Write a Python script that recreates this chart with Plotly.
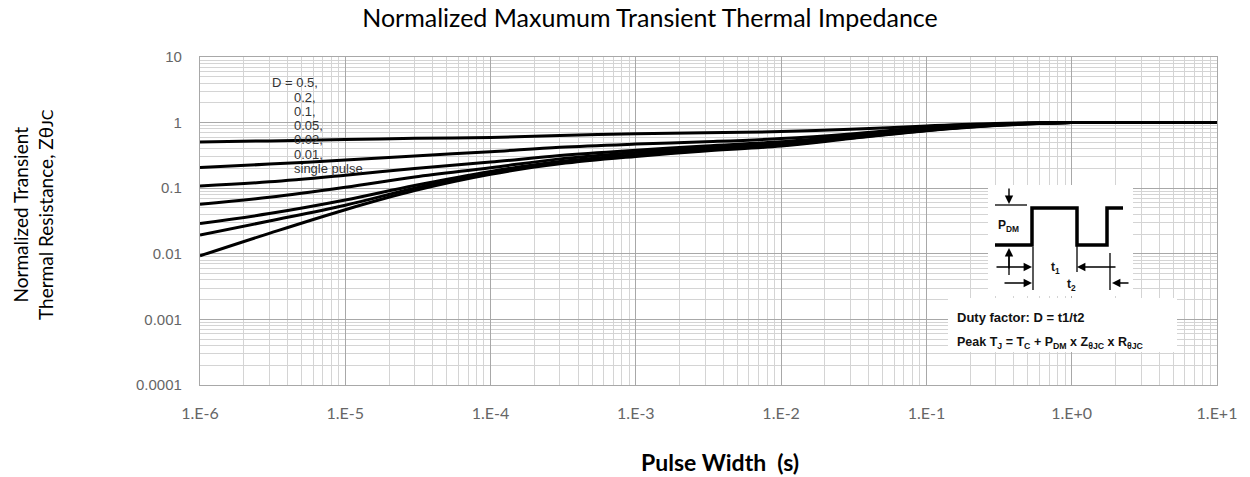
import plotly.graph_objects as go

# ---- data ----
pulse_width = [1e-6, 3e-6, 1e-5, 3e-5, 1e-4, 3e-4, 1e-3, 3e-3, 1e-2, 3e-2, 1e-1, 3e-1, 1.0, 3.0, 10.0]
d_050 = [0.508, 0.526, 0.553, 0.575, 0.595, 0.635, 0.675, 0.70, 0.73, 0.79, 0.89, 0.97, 1.0, 1.0, 1.0]
d_020 = [0.206, 0.233, 0.268, 0.31, 0.36, 0.42, 0.47, 0.51, 0.57, 0.67, 0.84, 0.95, 1.0, 1.0, 1.0]
d_010 = [0.108, 0.125, 0.158, 0.20, 0.25, 0.315, 0.38, 0.44, 0.51, 0.63, 0.81, 0.94, 1.0, 1.0, 1.0]
d_005 = [0.057, 0.0725, 0.103, 0.148, 0.205, 0.28, 0.35, 0.41, 0.48, 0.61, 0.79, 0.93, 1.0, 1.0, 1.0]
d_002 = [0.029, 0.041, 0.066, 0.11, 0.18, 0.255, 0.325, 0.39, 0.46, 0.59, 0.77, 0.92, 1.0, 1.0, 1.0]
d_001 = [0.0193, 0.0316, 0.055, 0.10, 0.172, 0.245, 0.315, 0.38, 0.45, 0.58, 0.76, 0.91, 1.0, 1.0, 1.0]
single = [0.0093, 0.0205, 0.047, 0.092, 0.163, 0.235, 0.305, 0.37, 0.44, 0.57, 0.75, 0.90, 1.0, 1.0, 1.0]
series = [d_050, d_020, d_010, d_005, d_002, d_001, single]
series_names = ["D=0.5", "D=0.2", "D=0.1", "D=0.05", "D=0.02", "D=0.01", "single pulse"]

x_tickvals = [1e-6, 1e-5, 1e-4, 1e-3, 1e-2, 1e-1, 1e0, 1e1]
x_ticktext = ["1.E-6", "1.E-5", "1.E-4", "1.E-3", "1.E-2", "1.E-1", "1.E+0", "1.E+1"]
y_tickvals = [1e-4, 1e-3, 1e-2, 1e-1, 1, 10]
y_ticktext = ["0.0001", "0.001", "0.01", "0.1", "1", "10"]
legend_lines = ["D = 0.5,", "0.2,", "0.1,", "0.05,", "0.02,", "0.01,", "single pulse"]

x_minor = [m * 10.0 ** e for e in range(-6, 1) for m in range(2, 10)]
y_minor = [m * 10.0 ** e for e in range(-4, 1) for m in range(2, 10)]

# ---- layout geometry (pixels) ----
W, H = 1250, 477
L, R, T, B = 200, 33, 57, 92
PW, PH = W - L - R, H - T - B


def px(x):
    return (x - L) / PW


def py(y):
    return (H - B - y) / PH


fig = go.Figure()
for vals, name in zip(series, series_names):
    fig.add_trace(go.Scatter(
        x=pulse_width, y=vals, mode="lines", name=name,
        line=dict(color="black", width=3, shape="spline", smoothing=1.0),
        showlegend=False, hoverinfo="skip"))

shapes = []
annotations = []

# inset white boxes
shapes.append(dict(type="rect", xref="paper", yref="paper",
                   x0=px(988), x1=px(1133), y0=py(296), y1=py(185),
                   fillcolor="white", line=dict(width=0), layer="above"))
shapes.append(dict(type="rect", xref="paper", yref="paper",
                   x0=px(948), x1=px(1177), y0=py(352), y1=py(298),
                   fillcolor="white", line=dict(width=0), layer="above"))

# pulse waveform
pts = [(995, 245), (1032, 245), (1032, 208), (1077, 208), (1077, 245),
       (1107, 245), (1107, 208), (1123, 208)]
path = "M " + " L ".join(f"{px(a):.5f},{py(b):.5f}" for a, b in pts)
shapes.append(dict(type="path", xref="paper", yref="paper", path=path,
                   line=dict(color="black", width=3.5), layer="above"))


def seg(x0, y0, x1, y1, w=1.3):
    shapes.append(dict(type="line", xref="paper", yref="paper",
                       x0=px(x0), y0=py(y0), x1=px(x1), y1=py(y1),
                       line=dict(color="black", width=w), layer="above"))


seg(995, 205, 1027, 205)
seg(1033, 247, 1033, 290)
seg(1077, 245, 1077, 272)
seg(1110, 253, 1110, 290)
seg(1009, 250, 1009, 275)


def arrow(xh, yh, xt, yt):
    annotations.append(dict(xref="paper", yref="paper", x=px(xh), y=py(yh),
                            ax=xt - xh, ay=yt - yh, text="", showarrow=True,
                            arrowhead=2, arrowsize=1.2, arrowwidth=1.4,
                            arrowcolor="black"))


arrow(1009, 204, 1009, 187)
arrow(1009, 248, 1009, 270)
arrow(1032, 267, 995, 267)
arrow(1077, 267, 1117, 267)
arrow(1032, 283, 1003, 283)
arrow(1112, 283, 1130, 283)


def label(x, y, text, size=10, bold=True, xanchor="left"):
    annotations.append(dict(xref="paper", yref="paper", x=px(x), y=py(y),
                            text=(f"<b>{text}</b>" if bold else text),
                            showarrow=False, xanchor=xanchor, yanchor="middle",
                            font=dict(family="Liberation Sans, Arial", size=size, color="#111")))


label(996, 226, "P<sub>DM</sub>", size=12)
label(1049, 268, "t<sub>1</sub>", size=12)
label(1065, 285, "t<sub>2</sub>", size=12)
label(955, 317, "Duty factor: D = t1/t2", size=13)
label(955, 343, "Peak T<sub>J</sub> = T<sub>C</sub> + P<sub>DM</sub> x Z<sub>θJC</sub> x R<sub>θJC</sub>", size=12.5)

# duty cycle label block
ys = [83, 97, 111, 125.5, 139.5, 154, 168]
for i, (txt, yy) in enumerate(zip(legend_lines, ys)):
    annotations.append(dict(xref="paper", yref="paper", x=px(270 if i == 0 else 292), y=py(yy),
                            text=txt, showarrow=False, xanchor="left", yanchor="middle",
                            font=dict(family="Liberation Sans, Arial", size=13, color="#333")))

# axis titles
annotations.append(dict(xref="paper", yref="paper", x=px(720), y=py(462),
                        text="<b>Pulse Width  (s)</b>", showarrow=False,
                        xanchor="center", yanchor="middle",
                        font=dict(family="Lato, Open Sans", size=23, color="black")))
annotations.append(dict(xref="paper", yref="paper", x=px(33), y=py(215),
                        text="Normalized Transient<br>Thermal Resistance, Zθ<span style='font-size:16px'>JC</span>",
                        showarrow=False, textangle=-90,
                        xanchor="center", yanchor="middle",
                        font=dict(family="Lato, Open Sans", size=19, color="black")))

fig.update_layout(
    width=W, height=H,
    margin=dict(l=L, r=R, t=T, b=B),
    paper_bgcolor="white", plot_bgcolor="white",
    title=dict(text="Normalized Maxumum Transient Thermal Impedance",
               xref="paper", x=px(650), xanchor="center",
               yref="container", y=1 - 18 / H, yanchor="middle",
               font=dict(family="Lato, Open Sans", size=25, color="black")),
    shapes=shapes, annotations=annotations,
)
fig.update_xaxes(
    type="log", range=[-6, 1],
    tickmode="array", tickvals=x_tickvals, ticktext=x_ticktext,
    ticklabelstandoff=14,
    tickfont=dict(family="Lato, Open Sans", size=16, color="#666"),
    showgrid=True, gridcolor="#a8a8a8", gridwidth=1.2,
    minor=dict(tickvals=x_minor, showgrid=True, gridcolor="#d4d4d4", gridwidth=1.2),
    showline=True, linecolor="#a8a8a8", linewidth=1.2, mirror=True,
    zeroline=False,
)
fig.update_yaxes(
    type="log", range=[-4, 1],
    tickmode="array", tickvals=y_tickvals, ticktext=y_ticktext,
    ticklabelstandoff=14,
    tickfont=dict(family="Liberation Sans, Arial", size=15, color="#666"),
    showgrid=True, gridcolor="#a8a8a8", gridwidth=1.2,
    minor=dict(tickvals=y_minor, showgrid=True, gridcolor="#d4d4d4", gridwidth=1.2),
    showline=True, linecolor="#a8a8a8", linewidth=1.2, mirror=True,
    zeroline=False,
)

fig.write_html("out.html", config={"displayModeBar": False},
               post_script="document.body.style.margin='0px';document.body.style.overflow='hidden';")
